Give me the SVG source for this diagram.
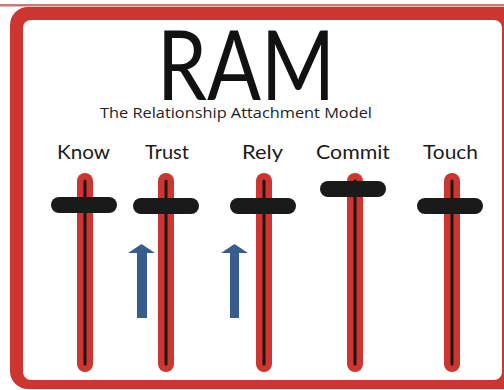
<svg xmlns="http://www.w3.org/2000/svg" width="504" height="390" viewBox="0 0 504 390">
<style>
.frame{fill:#cd3530}
.track{fill:#cd3530}
.rod{stroke:#1c1414;stroke-width:3;stroke-linecap:round}
.knob{fill:#1a1a1a}
.arrow{fill:#375d8e}
.lbl{font-family:Lato,"Liberation Sans",sans-serif;font-size:20px;fill:#1a1a1a}
</style>
<rect x="0" y="4" width="504" height="2.5" fill="#d27777"/>
<g id="frame">
<rect class="frame" x="10" y="7" width="520" height="382" rx="18"/>
<rect x="23" y="20" width="479" height="360" rx="8" fill="#ffffff"/>
</g>
<g id="title">
<text x="157" y="100" font-family="Lato,'Liberation Sans',sans-serif" font-size="97" fill="#111" textLength="178" lengthAdjust="spacingAndGlyphs">RAM</text>
<text x="100" y="118" font-family="'Open Sans',Lato,'Liberation Sans',sans-serif" font-size="14" fill="#222" textLength="272" lengthAdjust="spacingAndGlyphs">The Relationship Attachment Model</text>
</g>
<g id="know">
<text class="lbl" x="57" y="159" textLength="53" lengthAdjust="spacingAndGlyphs">Know</text>
<rect class="track" x="77" y="173" width="16" height="199" rx="8"/>
<line class="rod" x1="85" y1="181" x2="85" y2="364"/>
<rect class="knob" x="51" y="197" width="66" height="16" rx="8"/>
</g>
<g id="trust">
<text class="lbl" x="145" y="159" textLength="44" lengthAdjust="spacingAndGlyphs">Trust</text>
<rect class="track" x="158" y="173" width="16" height="199" rx="8"/>
<line class="rod" x1="166" y1="181" x2="166" y2="364"/>
<rect class="knob" x="133" y="198" width="66" height="16" rx="8"/>
</g>
<g id="rely">
<text class="lbl" x="242" y="159" textLength="41" lengthAdjust="spacingAndGlyphs">Rely</text>
<rect class="track" x="256" y="173" width="16" height="199" rx="8"/>
<line class="rod" x1="264" y1="181" x2="264" y2="364"/>
<rect class="knob" x="230" y="198" width="66" height="16" rx="8"/>
</g>
<g id="commit">
<text class="lbl" x="316" y="159" textLength="74" lengthAdjust="spacingAndGlyphs">Commit</text>
<rect class="track" x="347" y="173" width="16" height="199" rx="8"/>
<line class="rod" x1="355" y1="181" x2="355" y2="364"/>
<rect class="knob" x="320" y="181" width="66" height="16" rx="8"/>
</g>
<g id="touch">
<text class="lbl" x="423" y="159" textLength="55" lengthAdjust="spacingAndGlyphs">Touch</text>
<rect class="track" x="444" y="173" width="16" height="199" rx="8"/>
<line class="rod" x1="452" y1="181" x2="452" y2="364"/>
<rect class="knob" x="417" y="198" width="66" height="16" rx="8"/>
</g>
<g id="connectors">
<polygon class="arrow" points="141.5,244 155,253 147,253 147,318 137,318 137,253 128,253"/>
<polygon class="arrow" points="234.5,244 248,253 239,253 239,318 230,318 230,253 221,253"/>
</g>
</svg>
